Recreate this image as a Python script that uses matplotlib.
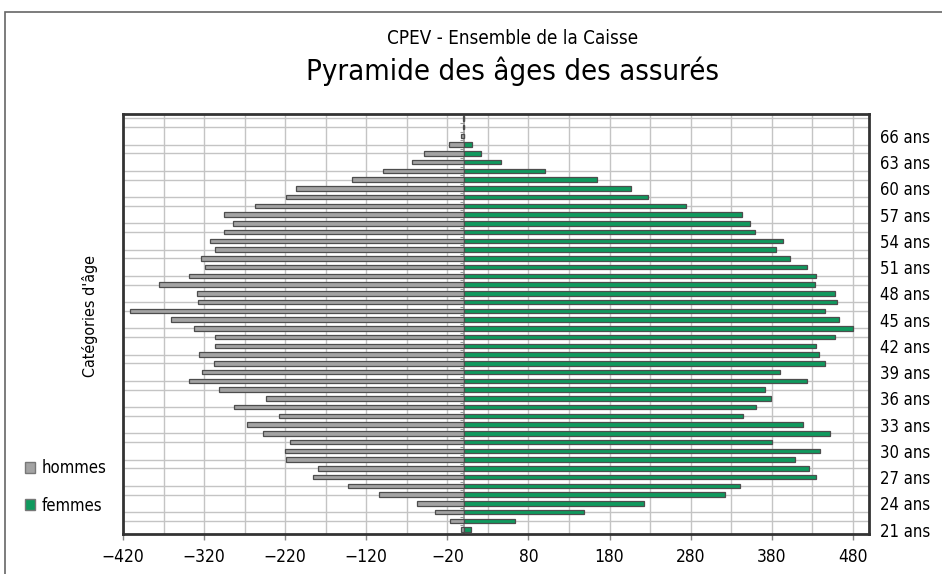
import numpy as np
import matplotlib.pyplot as plt
from matplotlib.patches import Patch, Rectangle

plt.rcParams['font.family'] = ['DejaVu Sans']
plt.rcParams['font.stretch'] = 'condensed'

# ---- data (ages 21 -> 68) ----
ages = list(range(21, 69))
hommes = [3, 17, 35, 57, 104, 143, 186, 180, 219, 220,
          214, 247, 267, 227, 283, 244, 302, 338, 323, 308,
          326, 306, 306, 333, 361, 411, 328, 329, 376, 339,
          319, 324, 306, 313, 295, 284, 295, 257, 219, 207,
          138, 99, 63, 49, 18, 3, 1, 1]
femmes = [9, 63, 149, 223, 322, 341, 435, 426, 409, 440,
          380, 452, 419, 345, 361, 379, 372, 424, 390, 446,
          438, 435, 458, 480, 463, 446, 461, 458, 433, 435,
          424, 402, 385, 394, 359, 353, 343, 274, 228, 207,
          165, 100, 46, 22, 10, 1, 0, 0]
age_ticks = list(range(21, 67, 3))
age_labels = [f"{a} ans" for a in age_ticks]
x_ticks = list(range(-420, 481, 100))

gray = '#a3a3a3'
green = '#0f9a5e'
edge = '#4d4d4d'

fig = plt.figure(figsize=(9.42, 5.74), dpi=100)
ax = fig.add_axes([123 / 942, 1 - 534 / 574, (869 - 123) / 942, (534 - 114) / 574])

y = np.array(ages)
ax.barh(y, -np.array(hommes), height=0.5, color=gray, edgecolor=edge, linewidth=0.9, zorder=3)
ax.barh(y, femmes, height=0.5, color=green, edgecolor=edge, linewidth=0.9, zorder=3)

ax.set_xlim(-420, 500)
ax.set_ylim(20.5, 68.5)

# grid
ax.set_xticks(x_ticks)
ax.set_xticks(np.arange(-420, 481, 50), minor=True)
ax.set_yticks(ages, minor=True)
ax.grid(True, which='minor', axis='both', color='#c4c4c4', linewidth=1.0, zorder=0)
ax.grid(True, which='major', axis='x', color='#c4c4c4', linewidth=1.0, zorder=0)
ax.tick_params(axis='x', which='minor', length=0)
ax.tick_params(axis='x', which='major', length=4, width=1, color='#888888',
               labelsize=12.5, pad=6)

# zero axis with small ticks between categories
ax.axvline(0, color='#999999', linewidth=1.2, zorder=2)
ax.hlines(y[:-1] + 0.5, -5, 0, color='#999999', linewidth=0.8, zorder=2)

ax.yaxis.tick_right()
ax.set_yticks(age_ticks)
ax.set_yticklabels(age_labels)
ax.tick_params(axis='y', which='both', length=0, labelsize=12, pad=8)

for s in ax.spines.values():
    s.set_linewidth(2)
    s.set_color('#333333')

# outer frame
fig.patches.append(Rectangle((5 / 942, -0.05), 1.0, 1 - 12 / 574 + 0.05,
                             transform=fig.transFigure, fill=False,
                             edgecolor='#666666', linewidth=1.2))

fig.text(513 / 942, 1 - 38 / 574, "CPEV - Ensemble de la Caisse",
         ha='center', va='center', fontsize=13.5)
fig.text(513 / 942, 1 - 71 / 574, "Pyramide des âges des assurés",
         ha='center', va='center', fontsize=21)
fig.text(90 / 942, 1 - 316 / 574, "Catégories d'âge", rotation=90,
         ha='center', va='center', fontsize=11.5)

handles = [Patch(facecolor=gray, edgecolor='#777777', label='hommes'),
           Patch(facecolor=green, edgecolor='#777777', label='femmes')]
fig.legend(handles=handles, loc='center left', bbox_to_anchor=(10 / 942, 1 - 487 / 574),
           frameon=False, fontsize=12, handlelength=0.6, handleheight=0.6,
           handletextpad=0.4, labelspacing=1.15)

fig.savefig('out.png', dpi=100)
